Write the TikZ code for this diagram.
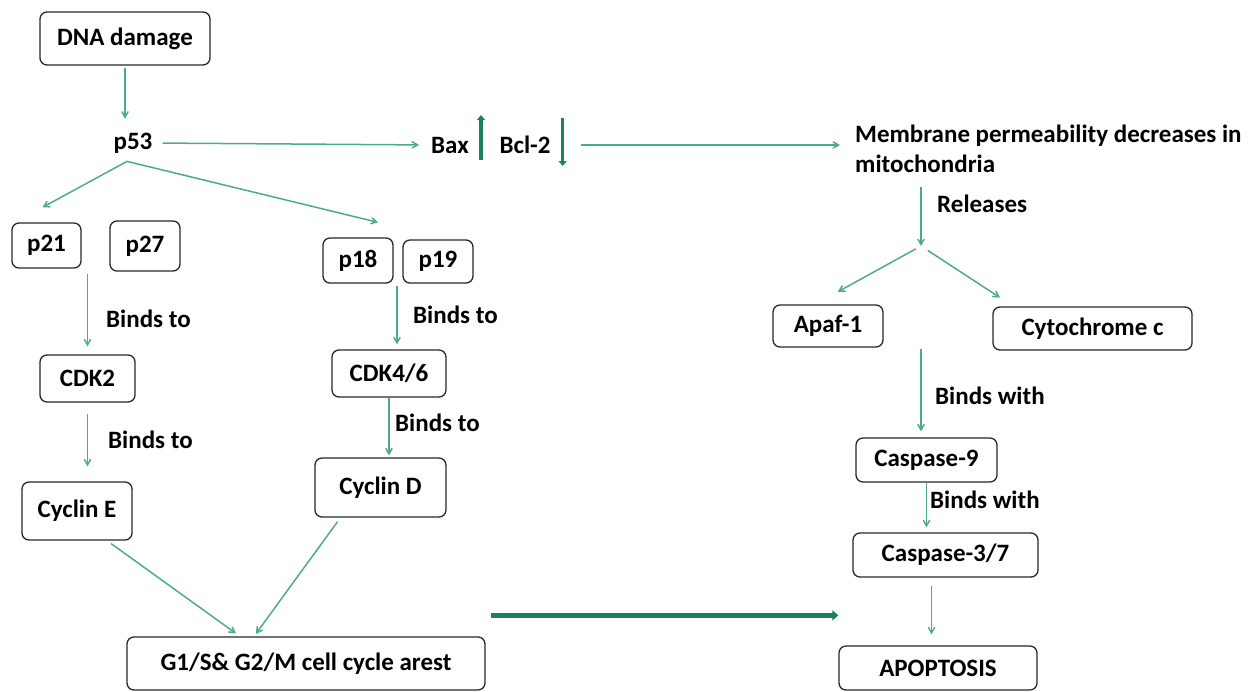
\documentclass[tikz,border=0pt]{standalone}
\usepackage{fontspec}
\setmainfont{Carlito}
\usetikzlibrary{arrows, arrows.meta}
\definecolor{arrowgreen}{RGB}{76,172,138}
\definecolor{bargreen}{RGB}{28,128,98}
\definecolor{boxline}{RGB}{40,40,40}

\begin{document}
\begin{tikzpicture}[
    x = 1pt, y = -1pt,
    >=angle 60,
    font = \fontsize{25}{30}\selectfont\bfseries,
    box/.style = {draw = boxline, line width = 1.3pt, rounded corners = 7pt, inner sep = 0pt},
    arr/.style = {->, line width = 1.5pt, arrowgreen},
    bar/.style = {-{Triangle[length = 5pt, width = 8pt]}, line width = 3.5pt, bargreen},
    lbl/.style = {inner sep = 0pt, anchor = west}]

\useasboundingbox (0,0) rectangle (1255,691);

\node[box, minimum width = 170, minimum height = 53] (dna) at (125,38.5) {DNA damage};
\node[inner sep = 0pt] (p53) at (133,143) {p53};
\node[inner sep = 0pt] (bax) at (450,145) {Bax};
\node[inner sep = 0pt] (bcl) at (525,145) {Bcl-2};
\node[inner sep = 0pt, anchor = north west, align = left] (membrane) at (855,125)
    {Membrane permeability decreases in\\mitochondria};

\node[box, minimum width = 69, minimum height = 45] (p21) at (46.5,245.5) {p21};
\node[box, minimum width = 70, minimum height = 50] (p27) at (145,246) {p27};
\node[box, minimum width = 70, minimum height = 45] (p18) at (358,260.5) {p18};
\node[box, minimum width = 70, minimum height = 43] (p19) at (438,261.5) {p19};

\node[box, minimum width = 95, minimum height = 47] (cdk2) at (87.5,378.5) {CDK2};
\node[box, minimum width = 114, minimum height = 47] (cdk46) at (389,373.5) {CDK4/6};
\node[box, minimum width = 110, minimum height = 58] (cycE) at (77,511) {Cyclin E};
\node[box, minimum width = 131, minimum height = 59] (cycD) at (380.5,487.5) {Cyclin D};
\node[box, minimum width = 358, minimum height = 53] (arrest) at (306,663.5) {G1/S\& G2/M cell cycle arest};

\node[box, minimum width = 110, minimum height = 42] (apaf) at (828,326) {Apaf-1};
\node[box, minimum width = 199, minimum height = 43] (cyto) at (1092.5,328.5) {Cytochrome c};
\node[box, minimum width = 141, minimum height = 44] (casp9) at (926.5,460) {Caspase-9};
\node[box, minimum width = 185, minimum height = 44] (casp37) at (945.5,555) {Caspase-3/7};
\node[box, minimum width = 198, minimum height = 44] (apop) at (938,668) {APOPTOSIS};

% labels on the arrows
\node[lbl] (bind1) at (106,319) {Binds to};
\node[lbl] (bind2) at (108,440) {Binds to};
\node[lbl] (bind3) at (413,315) {Binds to};
\node[lbl] (bind4) at (395,423) {Binds to};
\node[lbl] (rels) at (937,204) {Releases};
\node[lbl] (with1) at (935,396) {Binds with};
\node[lbl] (with2) at (930,500) {Binds with};

\coordinate (p53f) at ([xshift=-6pt, yshift=-8pt]p53.south);
\coordinate (rel) at (921,246);
\coordinate (thk) at ([xshift=5pt, yshift=21pt]arrest.north east);

% p53 branch
\draw[arr, shorten <=2pt, shorten >=14pt] (dna.south) -- (dna.south |- p53.north);
\draw[arr, shorten <=10pt, shorten >=12pt] (p53.east) -- (bax.west);
\draw[bar] ([xshift=12pt, yshift=-15pt]bax.east) -- ++(0,-45);
\draw[bar] ([xshift=12pt, yshift=27pt]bcl.east) -- ++(0,48);
\draw[arr, shorten <=30pt, shorten >=15pt] (bcl.east) -- (bcl.east -| membrane.west);

\draw[arr] (p53f) -- ([xshift=-4pt, yshift=15pt]p21.north);
\draw[arr] (p53f) -- ([xshift=20pt, yshift=15pt]p18.north);

\draw[arr, shorten <=5pt, shorten >=8pt] (cdk2.north |- p21.south) -- (cdk2.north);
\draw[arr, shorten <=11pt, shorten >=15pt] (cdk2.south) -- (cdk2.south |- cycE.north);
\draw[arr, shorten <=2pt, shorten >=5pt] ([xshift=8pt]cdk46.north |- p18.south) -- ([xshift=8pt]cdk46.north);
\draw[arr, shorten >=2pt] (cdk46.south) -- (cdk46.south |- cycD.north);

\draw[arr, shorten <=5pt, shorten >=5pt] ([xshift=30pt]cycE.south) -- ([xshift=-66pt]arrest.north);
\draw[arr, shorten <=5pt, shorten >=3pt] ([xshift=-40pt]cycD.south) -- ([xshift=-52pt]arrest.north);

% mitochondria branch
\draw[arr, shorten <=14pt] (rel |- membrane.south) -- (rel);
\draw[arr, shorten <=6pt, shorten >=26pt] (rel) -- ([xshift=-13pt]apaf.north);
\draw[arr, shorten <=8pt, shorten >=16pt] (rel) -- ([xshift=21pt]cyto.north west);
\draw[arr, shorten <=1pt, shorten >=6pt] (rel |- apaf.south) -- (rel |- casp9.north);
\draw[arr, shorten >=5pt] (casp9.south) -- (casp9.south |- casp37.north);
\draw[arr, shorten <=8pt, shorten >=11pt] ([xshift=-14pt]casp37.south) -- ([xshift=-14pt]casp37.south |- apop.north);

\draw[-{Triangle[length = 6pt, width = 10pt]}, line width = 5pt, bargreen] (thk) -- (thk -| apop.west);

\end{tikzpicture}
\end{document}
